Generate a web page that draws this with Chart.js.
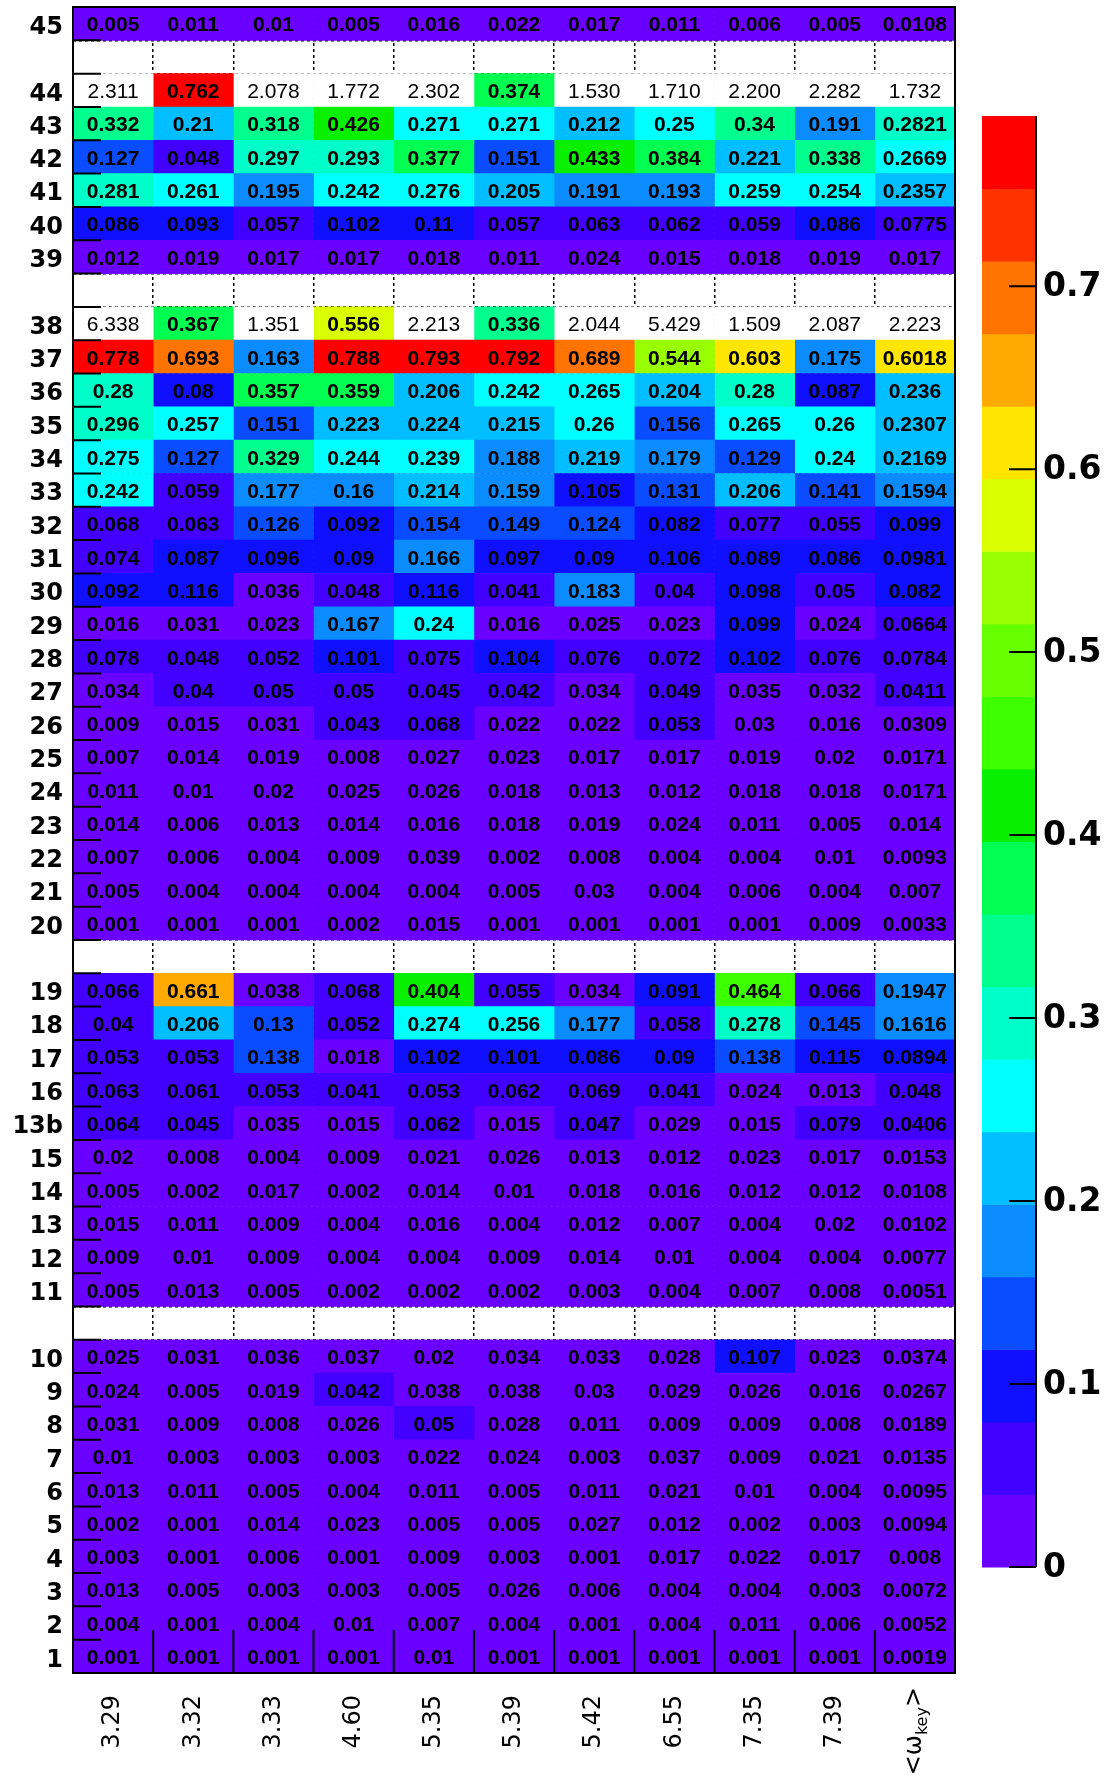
<!DOCTYPE html>
<html><head><meta charset="utf-8">
<script src="https://cdn.jsdelivr.net/npm/chart.js@4.4.1/dist/chart.umd.min.js"></script>
<style>html,body{margin:0;padding:0;background:#fff;}#wrap{width:1108px;height:1782px;position:relative;}</style>
</head><body><div id="wrap"><canvas id="c" width="1108" height="1782"></canvas></div>
<script>
// ---- data ----
const rowLabels = ['45','','44','43','42','41','40','39','','38','37','36','35','34','33','32','31','30','29','28','27','26','25','24','23','22','21','20','','19','18','17','16','13b','15','14','13','12','11','','10','9','8','7','6','5','4','3','2','1'];
const colLabels = ['3.29','3.32','3.33','4.60','5.35','5.39','5.42','6.55','7.35','7.39',''];
const meanLabelMain = '<ω', meanLabelSub = 'key', meanLabelEnd = '>';

const col329 = [0.005,null,2.311,0.332,0.127,0.281,0.086,0.012,null,6.338,0.778,0.28,0.296,0.275,0.242,0.068,0.074,0.092,0.016,0.078,0.034,0.009,0.007,0.011,0.014,0.007,0.005,0.001,null,0.066,0.04,0.053,0.063,0.064,0.02,0.005,0.015,0.009,0.005,null,0.025,0.024,0.031,0.01,0.013,0.002,0.003,0.013,0.004,0.001];
const col332 = [0.011,null,0.762,0.21,0.048,0.261,0.093,0.019,null,0.367,0.693,0.08,0.257,0.127,0.059,0.063,0.087,0.116,0.031,0.048,0.04,0.015,0.014,0.01,0.006,0.006,0.004,0.001,null,0.661,0.206,0.053,0.061,0.045,0.008,0.002,0.011,0.01,0.013,null,0.031,0.005,0.009,0.003,0.011,0.001,0.001,0.005,0.001,0.001];
const col333 = [0.01,null,2.078,0.318,0.297,0.195,0.057,0.017,null,1.351,0.163,0.357,0.151,0.329,0.177,0.126,0.096,0.036,0.023,0.052,0.05,0.031,0.019,0.02,0.013,0.004,0.004,0.001,null,0.038,0.13,0.138,0.053,0.035,0.004,0.017,0.009,0.009,0.005,null,0.036,0.019,0.008,0.003,0.005,0.014,0.006,0.003,0.004,0.001];
const col460 = [0.005,null,1.772,0.426,0.293,0.242,0.102,0.017,null,0.556,0.788,0.359,0.223,0.244,0.16,0.092,0.09,0.048,0.167,0.101,0.05,0.043,0.008,0.025,0.014,0.009,0.004,0.002,null,0.068,0.052,0.018,0.041,0.015,0.009,0.002,0.004,0.004,0.002,null,0.037,0.042,0.026,0.003,0.004,0.023,0.001,0.003,0.01,0.001];
const col535 = [0.016,null,2.302,0.271,0.377,0.276,0.11,0.018,null,2.213,0.793,0.206,0.224,0.239,0.214,0.154,0.166,0.116,0.24,0.075,0.045,0.068,0.027,0.026,0.016,0.039,0.004,0.015,null,0.404,0.274,0.102,0.053,0.062,0.021,0.014,0.016,0.004,0.002,null,0.02,0.038,0.05,0.022,0.011,0.005,0.009,0.005,0.007,0.01];
const col539 = [0.022,null,0.374,0.271,0.151,0.205,0.057,0.011,null,0.336,0.792,0.242,0.215,0.188,0.159,0.149,0.097,0.041,0.016,0.104,0.042,0.022,0.023,0.018,0.018,0.002,0.005,0.001,null,0.055,0.256,0.101,0.062,0.015,0.026,0.01,0.004,0.009,0.002,null,0.034,0.038,0.028,0.024,0.005,0.005,0.003,0.026,0.004,0.001];
const col542 = [0.017,null,1.530,0.212,0.433,0.191,0.063,0.024,null,2.044,0.689,0.265,0.26,0.219,0.105,0.124,0.09,0.183,0.025,0.076,0.034,0.022,0.017,0.013,0.019,0.008,0.03,0.001,null,0.034,0.177,0.086,0.069,0.047,0.013,0.018,0.012,0.014,0.003,null,0.033,0.03,0.011,0.003,0.011,0.027,0.001,0.006,0.001,0.001];
const col655 = [0.011,null,1.710,0.25,0.384,0.193,0.062,0.015,null,5.429,0.544,0.204,0.156,0.179,0.131,0.082,0.106,0.04,0.023,0.072,0.049,0.053,0.017,0.012,0.024,0.004,0.004,0.001,null,0.091,0.058,0.09,0.041,0.029,0.012,0.016,0.007,0.01,0.004,null,0.028,0.029,0.009,0.037,0.021,0.012,0.017,0.004,0.004,0.001];
const col735 = [0.006,null,2.200,0.34,0.221,0.259,0.059,0.018,null,1.509,0.603,0.28,0.265,0.129,0.206,0.077,0.089,0.098,0.099,0.102,0.035,0.03,0.019,0.018,0.011,0.004,0.006,0.001,null,0.464,0.278,0.138,0.024,0.015,0.023,0.012,0.004,0.004,0.007,null,0.107,0.026,0.009,0.009,0.01,0.002,0.022,0.004,0.011,0.001];
const col739 = [0.005,null,2.282,0.191,0.338,0.254,0.086,0.019,null,2.087,0.175,0.087,0.26,0.24,0.141,0.055,0.086,0.05,0.024,0.076,0.032,0.016,0.02,0.018,0.005,0.01,0.004,0.009,null,0.066,0.145,0.115,0.013,0.079,0.017,0.012,0.02,0.004,0.008,null,0.023,0.016,0.008,0.021,0.004,0.003,0.017,0.003,0.006,0.001];
const colMean = [0.0108,null,1.732,0.2821,0.2669,0.2357,0.0775,0.017,null,2.223,0.6018,0.236,0.2307,0.2169,0.1594,0.099,0.0981,0.082,0.0664,0.0784,0.0411,0.0309,0.0171,0.0171,0.014,0.0093,0.007,0.0033,null,0.1947,0.1616,0.0894,0.048,0.0406,0.0153,0.0108,0.0102,0.0077,0.0051,null,0.0374,0.0267,0.0189,0.0135,0.0095,0.0094,0.008,0.0072,0.0052,0.0019];

const columns = [col329,col332,col333,col460,col535,col539,col542,col655,col735,col739,colMean];
const zMax = 0.793;
const colorTicks = [0,0.1,0.2,0.3,0.4,0.5,0.6,0.7];
const palette = ['#6a00ff','#4200ff','#1010ff','#0a4cff','#0a8cff','#00beff','#00ffff','#00ffc8','#00ff8c','#00ff50','#08f000','#3cff00','#66ff00','#99ff00','#d9ff00','#ffe600','#ffaa00','#ff7400','#ff3300','#ff0000'];

function colorFor(v){
  if (v == null || v > zMax + 1e-9) return '#ffffff';
  let k = Math.floor(v / zMax * palette.length);
  if (k >= palette.length) k = palette.length - 1;
  return palette[k];
}
function fmt(v){ return v > zMax + 1e-9 ? v.toFixed(3) : String(v); }

const datasets = columns.map((vals, c) => ({
  data: vals.map(v => v == null ? null : [c, c + 1]),
  backgroundColor: vals.map(colorFor),
  borderWidth: 0,
  barPercentage: 1,
  categoryPercentage: 1,
  grouped: false,
  xAxisID: 'x', yAxisID: 'y'
}));

const overlay = {
  id: 'overlay',
  afterDraw(chart){
    const ctx = chart.ctx, xs = chart.scales.x, ys = chart.scales.y, x2 = chart.scales.x2;
    const a = chart.chartArea;
    ctx.save();
    // cell texts
    ctx.fillStyle = '#000';
    ctx.textAlign = 'center';
    ctx.textBaseline = 'middle';
    columns.forEach((vals, c) => {
      const px = xs.getPixelForValue(c + 0.5);
      vals.forEach((v, r) => {
        if (v == null) return;
        ctx.font = (v > zMax + 1e-9 ? '' : 'bold ') + '21px "Liberation Sans", Arial, sans-serif';
        ctx.fillText(fmt(v), px, ys.getPixelForValue(r) + 2);
      });
    });
    // inner ticks (left and bottom)
    ctx.strokeStyle = '#000';
    ctx.lineWidth = 2;
    const half = (ys.getPixelForValue(1) - ys.getPixelForValue(0)) / 2;
    ctx.beginPath();
    for (let r = 0; r <= rowLabels.length; r++) {
      const py = ys.getPixelForValue(r) - half;
      ctx.moveTo(a.left, py); ctx.lineTo(a.left + 28, py);
    }
    for (let c = 0; c <= columns.length; c++) {
      const px = xs.getPixelForValue(c);
      ctx.moveTo(px, a.bottom); ctx.lineTo(px, a.bottom - 43);
    }
    ctx.stroke();
    // frame
    ctx.lineWidth = 2;
    ctx.strokeRect(a.left, a.top, a.right - a.left, a.bottom - a.top);
    // mean label (rotated, with subscript)
    const mx = x2.getPixelForValue(colLabels.length - 1);
    const top = x2.top + 22;
    const fMain = '24px "DejaVu Sans", sans-serif', fSub = '16px "DejaVu Sans", sans-serif';
    ctx.font = fMain; const w1 = ctx.measureText(meanLabelMain).width, w3 = ctx.measureText(meanLabelEnd).width;
    ctx.font = fSub; const w2 = ctx.measureText(meanLabelSub).width;
    ctx.translate(mx, top - 8);
    ctx.rotate(-Math.PI / 2);
    ctx.textAlign = 'left'; ctx.textBaseline = 'middle';
    let tx = -(w1 + w2 + w3);
    ctx.font = fMain; ctx.fillText(meanLabelMain, tx, 0); tx += w1;
    ctx.font = fSub; ctx.fillText(meanLabelSub, tx, 8); tx += w2;
    ctx.font = fMain; ctx.fillText(meanLabelEnd, tx, 0);
    ctx.restore();
    // colour bar
    ctx.save();
    const cbL = 982, cbR = 1036, cbT = 116, cbB = 1567;
    const vy = v => cbB - v / zMax * (cbB - cbT);
    palette.forEach((col, k) => {
      const y1 = vy((k + 1) * zMax / palette.length), y0 = vy(k * zMax / palette.length);
      ctx.fillStyle = col;
      ctx.fillRect(cbL, y1, cbR - cbL, y0 - y1 + 0.5);
    });
    ctx.strokeStyle = '#000'; ctx.lineWidth = 2;
    ctx.beginPath(); ctx.moveTo(cbR, cbT); ctx.lineTo(cbR, cbB);
    colorTicks.forEach(t => { ctx.moveTo(cbR, vy(t)); ctx.lineTo(cbR - 27, vy(t)); });
    ctx.stroke();
    ctx.fillStyle = '#000';
    ctx.font = 'bold 33px "DejaVu Sans", sans-serif';
    ctx.textAlign = 'left'; ctx.textBaseline = 'middle';
    colorTicks.forEach(t => ctx.fillText(String(t), cbR + 7, vy(t) + 1));
    ctx.restore();
  }
};

new Chart(document.getElementById('c'), {
  type: 'bar',
  data: { labels: rowLabels, datasets },
  options: {
    indexAxis: 'y',
    responsive: false,
    animation: false,
    devicePixelRatio: 1,
    layout: { padding: { left: 0, top: 7, right: 153, bottom: 0 } },
    plugins: { legend: { display: false }, tooltip: { enabled: false } },
    scales: {
      y: {
        type: 'category', position: 'left', offset: true, z: 1,
        grid: { offset: true, color: '#000', lineWidth: 1.5, drawTicks: false },
        border: { display: false, dash: [3, 3] },
        ticks: { autoSkip: false, padding: 10, labelOffset: 4, color: '#000', font: { family: '"DejaVu Sans", sans-serif', size: 24, weight: 'bold' } },
        afterFit(s){ s.width = 73; s.paddingTop = 0; s.paddingBottom = 0; }
      },
      x: {
        type: 'linear', position: 'bottom', min: 0, max: columns.length, z: 1,
        grid: { color: '#000', lineWidth: 1.5, drawTicks: false },
        border: { display: false, dash: [3, 3] },
        ticks: { stepSize: 1, display: false },
        afterFit(s){ s.height = 0; s.paddingLeft = 0; s.paddingRight = 0; }
      },
      x2: {
        type: 'category', position: 'bottom', labels: colLabels, offset: true,
        grid: { display: false, drawTicks: false },
        border: { display: false },
        ticks: { autoSkip: false, minRotation: 90, maxRotation: 90, padding: 22, color: '#000', font: { family: '"DejaVu Sans", sans-serif', size: 24 } },
        afterFit(s){ s.height = 109; s.paddingLeft = 0; s.paddingRight = 0; }
      }
    }
  },
  plugins: [overlay]
});
</script></body></html>
